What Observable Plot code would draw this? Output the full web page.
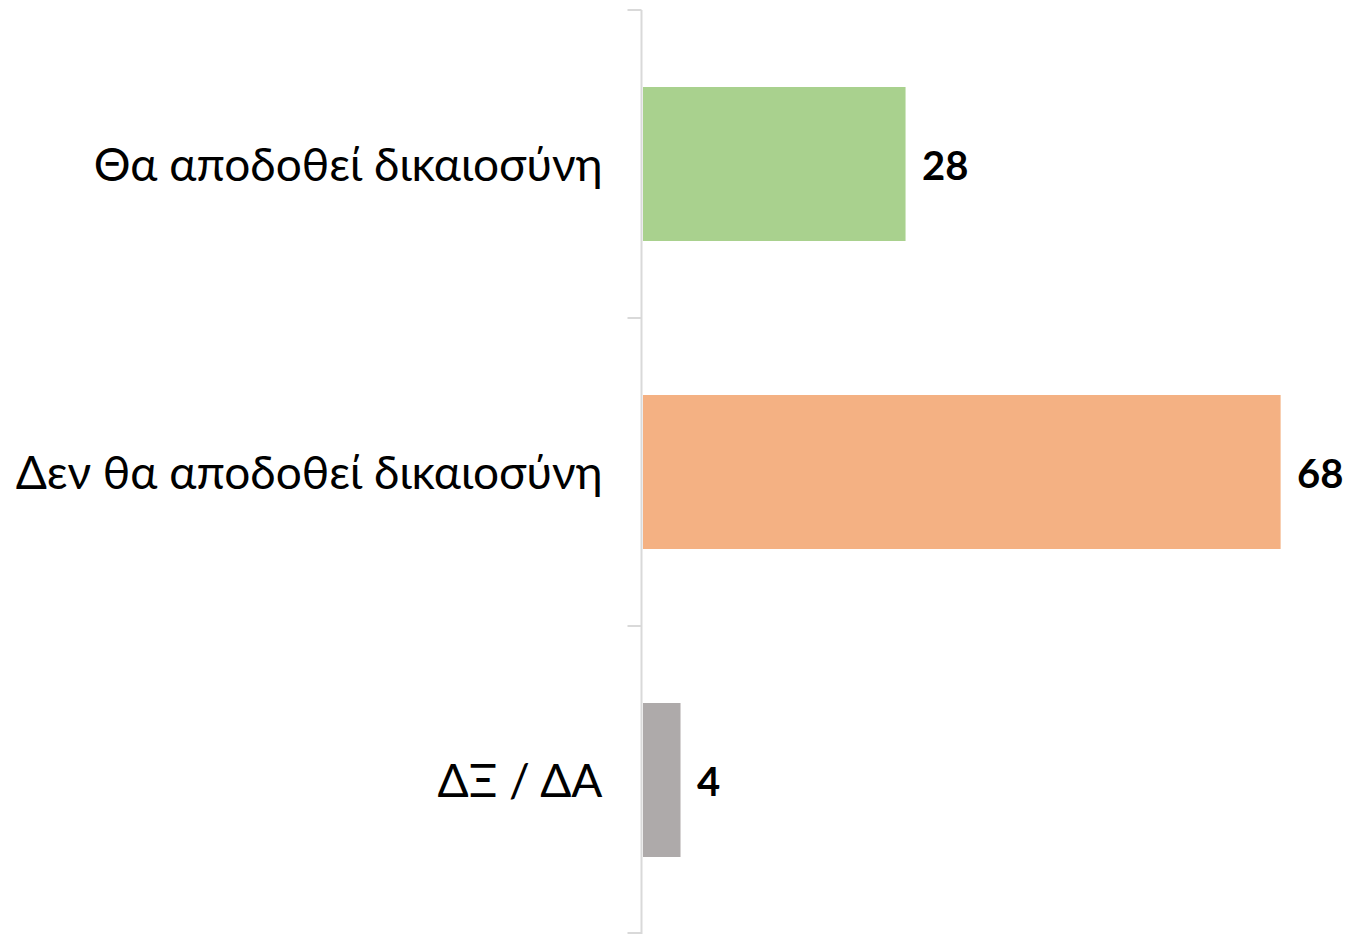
<!DOCTYPE html>
<html><head><meta charset="utf-8">
<script src="https://cdn.jsdelivr.net/npm/d3@7"></script>
<script src="https://cdn.jsdelivr.net/npm/@observablehq/plot@0.6"></script>
<style>body{margin:0;background:#fff}</style>
</head><body><div id="chart"></div>
<script>
const categories = ["Θα αποδοθεί δικαιοσύνη", "Δεν θα αποδοθεί δικαιοσύνη", "ΔΞ / ΔΑ"];
const values = [28, 68, 4];
const colors = ["#a9d18e", "#f4b183", "#aeaaaa"];
const data = categories.map((c, i) => ({cat: c, value: values[i], color: colors[i]}));

const plot = Plot.plot({
  width: 1350, height: 934,
  marginLeft: 643, marginRight: 0, marginTop: 10, marginBottom: 0,
  style: {fontFamily: "Lato, sans-serif", background: "#fff"},
  x: {domain: [0, 75.4], axis: null},
  y: {domain: categories, paddingInner: 0.5, paddingOuter: 0.25, label: null},
  marks: [
    Plot.barX(data, {x: "value", y: "cat", fill: "color"}),
    Plot.axisY({tickSize: 0, tickPadding: 41, fontSize: 46, fill: "#000", label: null, dy: 2}),
    Plot.text(data, {x: "value", y: "cat", text: d => String(d.value), dx: 16, dy: 3, textAnchor: "start", fontSize: 40, fontWeight: "bold", fill: "#000"})
  ]
});
document.getElementById("chart").appendChild(plot);

// axis line and category boundary ticks
const ys = plot.scale("y");
const step = ys.bandwidth / (1 - 0.5);
const svg = d3.select(plot);
const x0 = plot.scale("x").apply(0) - 1.5;
const first = ys.apply(categories[0]) - step * 0.25;
const boundaries = d3.range(categories.length + 1).map(i => first + i * step);
const g = svg.append("g").attr("stroke", "#d9d9d9").attr("stroke-width", 2);
g.append("line").attr("x1", x0).attr("x2", x0).attr("y1", boundaries[0]).attr("y2", boundaries[boundaries.length-1]);
g.selectAll("line.t").data(boundaries).join("line").attr("class","t")
  .attr("x1", x0 - 14).attr("x2", x0).attr("y1", d => Math.min(d, 933)).attr("y2", d => Math.min(d, 933));
</script></body></html>
